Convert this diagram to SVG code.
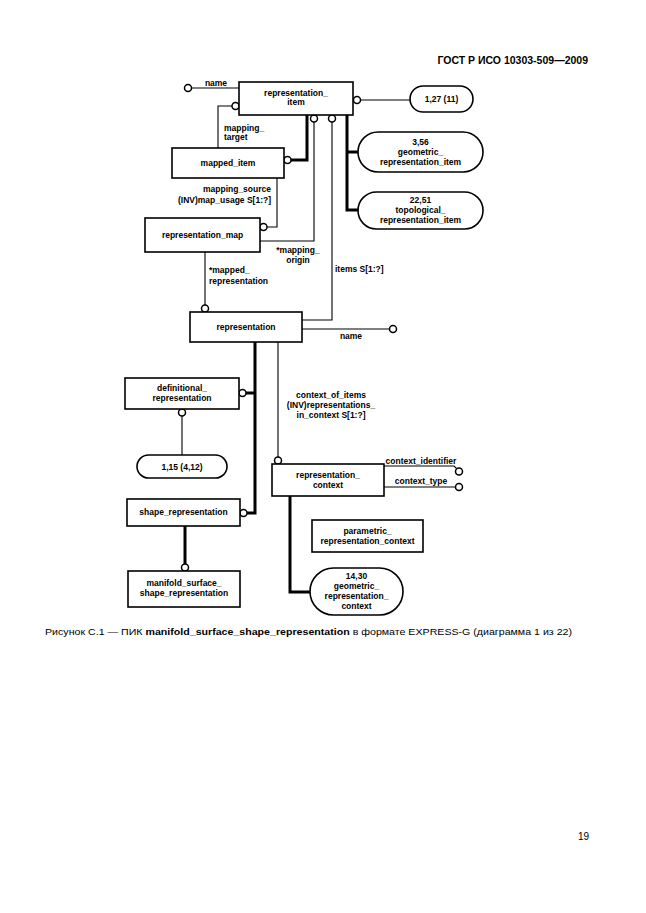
<svg xmlns="http://www.w3.org/2000/svg" width="646" height="913" viewBox="0 0 646 913">
<style>
.box{fill:#fff;stroke:#000;stroke-width:1.6}
.t{font-family:"Liberation Sans",Arial,sans-serif;font-size:8.5px;font-weight:bold;fill:#000;text-anchor:middle}
.l{text-anchor:start}
.r{text-anchor:end}
.thin{fill:none;stroke:#000;stroke-width:1.1}
.thick{fill:none;stroke:#000;stroke-width:3}
.c{fill:#fff;stroke:#000;stroke-width:1.5}
</style>
<rect width="646" height="913" fill="#fff"/>
<text x="588" y="64" style="font-family:'Liberation Sans',Arial,sans-serif;font-size:10.5px;font-weight:bold;text-anchor:end">ГОСТ Р ИСО 10303-509—2009</text>

<g id="connectors">
<path class="thin" d="M191.5 88 H239"/>
<path class="thin" d="M360.5 100 H410"/>
<path class="thin" d="M232 106 H218 V148"/>
<path class="thick" d="M307 115 V160 H291"/>
<path class="thick" d="M347 115 V210 H358 M347 152 H358"/>
<path class="thin" d="M277 178 V227 H267"/>
<path class="thin" d="M314 122 V241 H260"/>
<path class="thin" d="M332 122 V320 H302"/>
<path class="thin" d="M205 252 V305"/>
<path class="thin" d="M302 329 H389.5"/>
<path class="thick" d="M255 342 V513 H247 M255 393 H246"/>
<path class="thin" d="M278 342 V457"/>
<path class="thin" d="M182 416 V455"/>
<path class="thin" d="M384 466 H454 L456.5 468.5"/>
<path class="thin" d="M384 487 H455.5"/>
<path class="thick" d="M185 526 V564"/>
<path class="thick" d="M290 496 V592 H310"/>
<circle class="c" cx="188" cy="88" r="3.5"/>
<circle class="c" cx="357" cy="100" r="3.5"/>
<circle class="c" cx="235.5" cy="106" r="3.5"/>
<circle class="c" cx="314" cy="118.5" r="3.5"/>
<circle class="c" cx="332" cy="118.5" r="3.5"/>
<circle class="c" cx="287.5" cy="160" r="3.5"/>
<circle class="c" cx="263.5" cy="227" r="3.5"/>
<circle class="c" cx="205" cy="308.5" r="3.5"/>
<circle class="c" cx="393" cy="329" r="3.5"/>
<circle class="c" cx="242.5" cy="393" r="3.5"/>
<circle class="c" cx="182" cy="412.5" r="3.5"/>
<circle class="c" cx="278" cy="460.5" r="3.5"/>
<circle class="c" cx="459" cy="471.5" r="3.5"/>
<circle class="c" cx="459" cy="487" r="3.5"/>
<circle class="c" cx="243.5" cy="513" r="3.5"/>
<circle class="c" cx="185" cy="567.5" r="3.5"/>
<text class="t" x="216" y="86">name</text>
<text class="t l" x="224" y="131">mapping_</text>
<text class="t l" x="224" y="140">target</text>
<text class="t r" x="271" y="192">mapping_source</text>
<text class="t r" x="271" y="203">(INV)map_usage S[1:?]</text>
<text class="t" x="298" y="253">*mapping_</text>
<text class="t" x="298" y="263">origin</text>
<text class="t l" x="335" y="272">items S[1:?]</text>
<text class="t l" x="209" y="273">*mapped_</text>
<text class="t l" x="209" y="284">representation</text>
<text class="t" x="351" y="339">name</text>
<text class="t" x="331" y="398">context_of_items</text>
<text class="t" x="331" y="408">(INV)representations_</text>
<text class="t" x="331" y="418">in_context S[1:?]</text>
<text class="t" x="421" y="464">context_identifier</text>
<text class="t" x="421" y="484">context_type</text>
</g>

<g id="representation_item">
<rect class="box" x="239" y="82" width="114" height="33"/>
<text class="t" x="296" y="96">representation_</text>
<text class="t" x="296" y="105">item</text>
</g>
<g id="ref_1_27">
<rect class="box" x="410" y="86" width="63" height="26" rx="13"/>
<text class="t" x="441.5" y="102">1,27 (11)</text>
</g>
<g id="geometric_representation_item">
<rect class="box" x="358" y="132" width="125" height="40" rx="20"/>
<text class="t" x="420.5" y="145">3,56</text>
<text class="t" x="420.5" y="155">geometric_</text>
<text class="t" x="420.5" y="165">representation_item</text>
</g>
<g id="topological_representation_item">
<rect class="box" x="358" y="192" width="125" height="37" rx="18.5"/>
<text class="t" x="420.5" y="203">22,51</text>
<text class="t" x="420.5" y="213">topological_</text>
<text class="t" x="420.5" y="223">representation_item</text>
</g>
<g id="mapped_item">
<rect class="box" x="172" y="148" width="112" height="30"/>
<text class="t" x="228" y="166">mapped_item</text>
</g>
<g id="representation_map">
<rect class="box" x="145" y="218" width="115" height="34"/>
<text class="t" x="202.5" y="238">representation_map</text>
</g>
<g id="representation">
<rect class="box" x="190" y="312" width="112" height="30"/>
<text class="t" x="246" y="330">representation</text>
</g>
<g id="definitional_representation">
<rect class="box" x="125" y="378" width="114" height="31"/>
<text class="t" x="182" y="391">definitional_</text>
<text class="t" x="182" y="401">representation</text>
</g>
<g id="ref_1_15">
<rect class="box" x="137" y="455" width="90" height="23" rx="11.5"/>
<text class="t" x="182" y="470">1,15 (4,12)</text>
</g>
<g id="representation_context">
<rect class="box" x="272" y="464" width="112" height="32"/>
<text class="t" x="328" y="478">representation_</text>
<text class="t" x="328" y="488">context</text>
</g>
<g id="shape_representation">
<rect class="box" x="127" y="499" width="113" height="27"/>
<text class="t" x="183.5" y="515">shape_representation</text>
</g>
<g id="manifold_surface_shape_representation">
<rect class="box" x="128" y="571" width="112" height="36"/>
<text class="t" x="184" y="586">manifold_surface_</text>
<text class="t" x="184" y="596">shape_representation</text>
</g>
<g id="parametric_representation_context">
<rect class="box" x="312" y="520" width="111" height="32"/>
<text class="t" x="367.5" y="534">parametric_</text>
<text class="t" x="367.5" y="544">representation_context</text>
</g>
<g id="geometric_representation_context">
<rect class="box" x="310" y="568" width="93" height="47" rx="23.5"/>
<text class="t" x="356.5" y="579">14,30</text>
<text class="t" x="356.5" y="589">geometric_</text>
<text class="t" x="356.5" y="599">representation_</text>
<text class="t" x="356.5" y="609">context</text>
</g>

<text x="45" y="635" textLength="527" lengthAdjust="spacingAndGlyphs" style="font-family:'Liberation Sans',Arial,sans-serif;font-size:9.5px;fill:#000">Рисунок С.1 — ПИК <tspan font-weight="bold">manifold_surface_shape_representation</tspan> в формате EXPRESS-G (диаграмма 1 из 22)</text>
<text x="589" y="840" style="font-family:'Liberation Sans',Arial,sans-serif;font-size:10px;text-anchor:end;fill:#000">19</text>
</svg>
